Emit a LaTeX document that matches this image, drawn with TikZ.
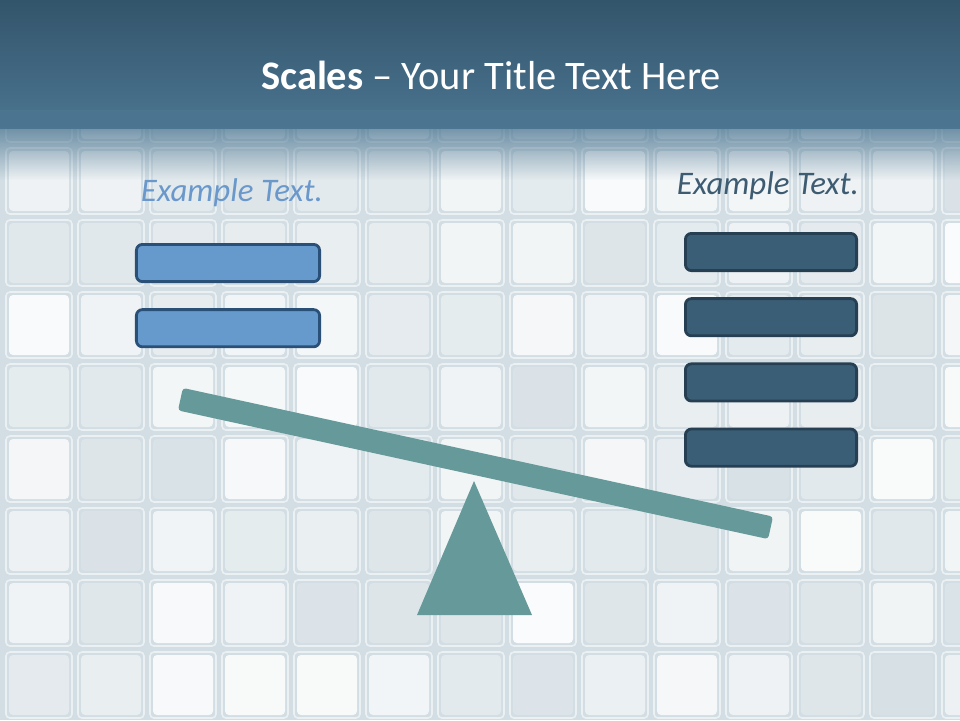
\documentclass[tikz,border=0pt]{standalone}
\usepackage{fontspec}
\setmainfont{Carlito}
\usepackage{xcolor}
\usepackage{tikz}
\usetikzlibrary{shapes, positioning, fadings}

\definecolor{titletop}{HTML}{33556B}
\definecolor{titlebot}{HTML}{4B7591}
\definecolor{tilegap}{HTML}{D2DEE4}
\definecolor{tileshade}{HTML}{CCD8DE}
\definecolor{leftfill}{HTML}{6699CC}
\definecolor{leftline}{HTML}{2A5078}
\definecolor{rightfill}{HTML}{3B5E77}
\definecolor{rightline}{HTML}{263F52}
\definecolor{scaleteal}{HTML}{669999}
\definecolor{lefttext}{HTML}{6A98CB}
\definecolor{righttext}{HTML}{3D5C72}

\tikzset{
    leftbox/.style={draw=leftline, fill=leftfill, line width=0.7mm, rounded corners=1.5mm,
        minimum width=45.8mm, minimum height=9.3mm, inner sep=0pt},
    rightbox/.style={draw=rightline, fill=rightfill, line width=0.7mm, rounded corners=1.5mm,
        minimum width=42.8mm, minimum height=9.3mm, inner sep=0pt},
    beam/.style={fill=scaleteal, rounded corners=0.8mm, minimum width=151mm,
        minimum height=5.75mm, inner sep=0pt},
}

\begin{document}
\begin{tikzpicture}[x=0.25mm, y=-0.25mm]
    \def\tw{72}   % taille des carreaux
    \useasboundingbox (0,0) rectangle (960,720);

    % Fond en carreaux de verre
    \fill[tilegap] (0,0) rectangle (960,720);
    \pgfmathsetseed{11}
    \foreach \i in {0,...,13}{
        \foreach \j in {0,...,9}{
            \pgfmathsetmacro{\t}{int(10+70*rnd)}
            \fill[tileshade!\t!white, rounded corners=1mm]
                (3+\tw*\i+6,1+\tw*\j+6) rectangle (3+\tw*\i+\tw-6,1+\tw*\j+\tw-6);
            \draw[white!55!tilegap, line width=0.4mm, rounded corners=1mm]
                (3+\tw*\i+3,1+\tw*\j+3) rectangle (3+\tw*\i+\tw-3,1+\tw*\j+\tw-3);
        }
    }

    % Bandeau du titre
    \fill[top color=titletop, bottom color=titlebot] (0,0) rectangle (960,128);
    \fill[titlebot, path fading=south] (0,110) rectangle (960,180);
    \node[text=white, font=\fontsize{28.8}{32}\selectfont] (title) at (491,75)
        {\textbf{Scales} -- Your Title Text Here};

    % Plateau gauche
    \node[text=lefttext, font=\fontsize{23.4}{28}\selectfont\itshape] (ltext) at (232,193) {Example Text.};
    \node[leftbox] (lbox1) at (228,263) {};
    \node[leftbox, below=6.3mm of lbox1] (lbox2) {};

    % Plateau droit
    \node[text=righttext, font=\fontsize{23.4}{28}\selectfont\itshape] (rtext) at (768,186) {Example Text.};
    \node[rightbox] (rbox1) at (771,252) {};
    \foreach \k [count=\n from 2] in {1,2,3}{
        \node[rightbox, below=6.3mm of rbox\k] (rbox\n) {};
    }

    % Balance
    \node[beam, rotate=-12.3] (beam) at (475.5,463.5) {};
    \coordinate (apex) at (474,481);
    \fill[scaleteal] (apex) -- (532,615) -- (417,615) -- cycle;
\end{tikzpicture}
\end{document}
